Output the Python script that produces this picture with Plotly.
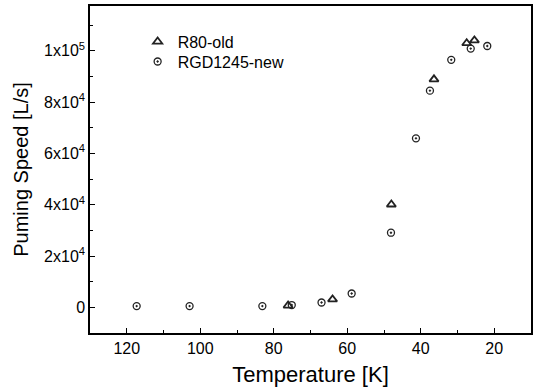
import plotly.graph_objects as go

# R80-old
t_old = [76.1, 64.0, 48.0, 36.4, 27.5, 25.4]
s_old = [700, 3100, 40100, 88900, 103000, 104100]

# RGD1245-new
t_new = [117.3, 102.9, 83.1, 75.1, 67.0, 58.8, 48.1, 41.3, 37.5, 31.7, 26.4, 21.9]
s_new = [500, 500, 500, 900, 1900, 5400, 29100, 65900, 84500, 96500, 100900, 101900]

y_tickvals = [0, 20000, 40000, 60000, 80000, 100000]
y_ticktext = ["0", "2x10<sup>4</sup>", "4x10<sup>4</sup>", "6x10<sup>4</sup>",
              "8x10<sup>4</sup>", "1x10<sup>5</sup>"]
x_tickvals = [120, 100, 80, 60, 40, 20]

FONT = "Liberation Sans, Arial"

fig = go.Figure()
fig.add_trace(go.Scatter(
    x=t_old, y=s_old, mode="markers", name="R80-old", legend="legend",
    marker=dict(symbol="triangle-up-open", size=8, color="#222",
                line=dict(width=1.8, color="#222"))))
fig.add_trace(go.Scatter(
    x=t_new, y=s_new, mode="markers", name="RGD1245-new", legend="legend2",
    marker=dict(symbol="circle-open-dot", size=7, color="#222",
                line=dict(width=1.3, color="#222"))))

axis_common = dict(showgrid=False, zeroline=False, showline=True, linecolor="black",
                   linewidth=1.5, mirror=True, ticks="inside", ticklen=5,
                   tickcolor="black", tickwidth=1.2,
                   tickfont=dict(family=FONT, size=16, color="black"))

legend_common = dict(xanchor="left", yanchor="middle", bgcolor="rgba(0,0,0,0)",
                     font=dict(family=FONT, size=16, color="black"),
                     itemwidth=30, borderwidth=0)

fig.update_layout(
    width=537, height=389,
    margin=dict(l=90, r=6, t=4, b=56),
    paper_bgcolor="white", plot_bgcolor="white",
    font=dict(family=FONT, color="black"),
    xaxis=dict(range=[130, 10], tickvals=x_tickvals,
               title=dict(text="Temperature [K]", font=dict(size=22), standoff=11),
               minor=dict(ticks="inside", ticklen=3, tickcolor="black", tickwidth=1,
                          tickvals=[130, 110, 90, 70, 50, 30, 10]),
               **axis_common),
    yaxis=dict(range=[-10000, 117500], tickvals=y_tickvals, ticktext=y_ticktext,
               title=dict(text="Puming Speed [L/s]", font=dict(size=20), standoff=10),
               minor=dict(ticks="inside", ticklen=3, tickcolor="black", tickwidth=1,
                          tickvals=[-10000, 10000, 30000, 50000, 70000, 90000, 110000]),
               **axis_common),
    legend=dict(x=0.108, y=0.891, **legend_common),
    legend2=dict(x=0.108, y=0.830, **legend_common),
    showlegend=True,
)

fig.write_html("out.html")
